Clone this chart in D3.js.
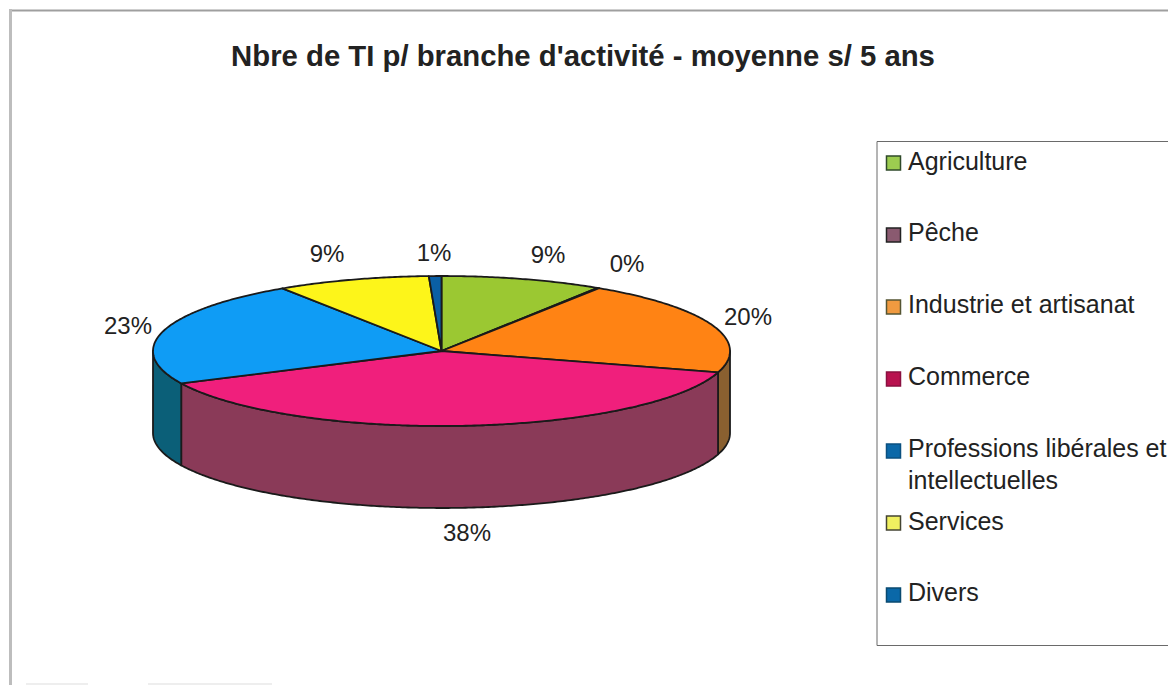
<!DOCTYPE html>
<html><head><meta charset="utf-8">
<script src="https://cdn.jsdelivr.net/npm/d3@7"></script>
<style>html,body{margin:0;padding:0;background:#fff}svg{display:block}text{font-family:"Liberation Sans",Arial,sans-serif;fill:#222}</style>
</head><body>
<svg id="c" width="1168" height="685"></svg>
<script>
const categories=["Agriculture","Pêche","Industrie et artisanat","Commerce","Professions libérales et|intellectuelles","Services","Divers"];
const values=[9.1,0.1,20.4,38.3,22.8,8.6,0.7];
const topColors=["#9bc832","#8f3a5c","#ff8314","#f01f7c","#0f9cf5","#fdf51a","#0a5fa5"];
const sideColors=["#5e7a1e","#5a2439","#8a6030","#8a3a58","#0b5f78","#99951a","#063a64"];
const legendColors=["#9ccc50","#8a5a70","#f09a40","#b8124f","#0b68a8","#f0f060","#0a68a8"];
const legendEdge=["#2f4a2a","#222222","#555533","#8a1040","#0b5080","#444433","#0a4a70"];
const title="Nbre de TI p/ branche d'activité - moyenne s/ 5 ans";
const labelPos=[[548,263],[627,272],[748,325],[467,541],[128,334],[327,262],[434,261]];

const svg=d3.select("#c");
// frame
const frame=[[[9,10.5],[1168,10.5],"#9f9f9f",2],[[10.5,9],[10.5,685],"#bdbdbd",3],[[26,684],[88,684],"#dddddd",1],[[148,684],[272,684],"#dddddd",1]];
frame.forEach(f=>svg.append("line").attr("x1",f[0][0]).attr("y1",f[0][1]).attr("x2",f[1][0]).attr("y2",f[1][1]).attr("stroke",f[2]).attr("stroke-width",f[3]));

svg.append("text").attr("x",583).attr("y",66).attr("text-anchor","middle").attr("font-size",29.3).attr("font-weight",700).text(title);

// pie geometry
const x=d3.scaleLinear().domain([-1,1]).range([153,730]);
const y=d3.scaleLinear().domain([-1,1]).range([276,426]);
const depth=82;
const arcs=d3.pie().sort(null)(values);
const ptX=a=>x(Math.sin(a)), ptY=a=>y(-Math.cos(a));
const line=d3.line().x(d=>d[0]).y(d=>d[1]);
const sample=(a,b)=>{const n=Math.max(2,Math.ceil(Math.abs(b-a)/0.01));return d3.range(n+1).map(i=>a+(b-a)*i/n);};
const ink="#1a1a1a";

// walls (front half only: angle between PI/2 and 3PI/2)
const g=svg.append("g").attr("stroke",ink).attr("stroke-width",1.8).attr("stroke-linejoin","round");
arcs.forEach((d,i)=>{
  const a=Math.max(d.startAngle,Math.PI/2), b=Math.min(d.endAngle,Math.PI*1.5);
  if(b<=a) return;
  const s=sample(a,b);
  const pts=s.map(t=>[ptX(t),ptY(t)]).concat(s.slice().reverse().map(t=>[ptX(t),ptY(t)+depth]));
  g.append("path").attr("d",line(pts)+"Z").attr("fill",sideColors[i]);
});
// top
arcs.forEach((d,i)=>{
  const pts=[[x(0),y(0)]].concat(sample(d.startAngle,d.endAngle).map(t=>[ptX(t),ptY(t)]));
  g.append("path").attr("d",line(pts)+"Z").attr("fill",topColors[i]);
});

// percentage labels
const fmt=d3.format(".0f");
arcs.forEach((d,i)=>{
  svg.append("text").attr("x",labelPos[i][0]).attr("y",labelPos[i][1]).attr("text-anchor","middle").attr("font-size",24).text(fmt(d.value)+"%");
});

// legend
svg.append("path").attr("d","M877,141.5H1168M877,141.5V645.5H1168").attr("fill","none").attr("stroke","#6a6a6a").attr("stroke-width",1);
const swatchY=[163,235,307,379,451,523,595];
const textY=[[170],[241],[313],[385],[457,489],[530],[601]];
categories.forEach((c,i)=>{
  svg.append("rect").attr("x",886.5).attr("y",swatchY[i]-7).attr("width",14).attr("height",14).attr("fill",legendColors[i]).attr("stroke",legendEdge[i]).attr("stroke-width",1.5);
  c.split("|").forEach((t,j)=>{
    svg.append("text").attr("x",908).attr("y",textY[i][j]).attr("font-size",25).text(t);
  });
});
</script>
</body></html>
